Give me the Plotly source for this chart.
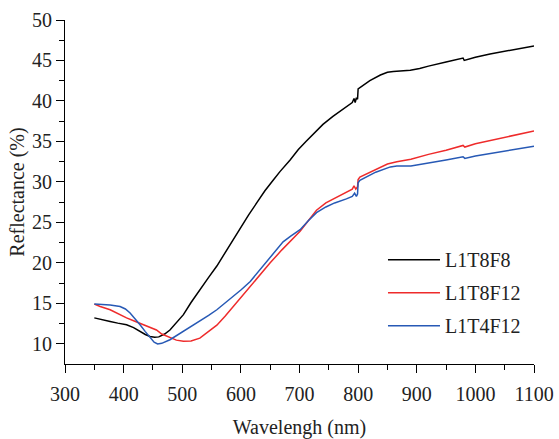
import plotly.graph_objects as go

# L1T8F8 (black)
wl_k = [350, 360, 377, 390, 405, 417, 428, 437, 445, 453, 460, 470, 479, 490, 502,
        515, 530, 545, 559, 576, 590, 599, 613, 627, 641, 655, 667, 684, 698, 711, 724,
        740, 757, 770, 781, 790, 793, 795, 797, 799, 800, 810, 820, 838, 850, 860, 875,
        889, 905, 920, 950, 979, 981, 1000, 1025, 1050, 1075, 1100]
r_k = [13.2, 13.0, 12.75, 12.55, 12.35, 12.0, 11.5, 11.15, 10.9, 10.8, 10.85, 11.2, 11.7, 12.6, 13.6,
       15.1, 16.7, 18.2, 19.6, 21.6, 23.2, 24.3, 25.9, 27.4, 28.9, 30.2, 31.3, 32.7, 34.0, 35.0, 36.0,
       37.1, 38.1, 38.8, 39.3, 39.8, 40.3, 39.8, 40.4, 40.2, 41.5, 42.0, 42.5, 43.2, 43.55, 43.65, 43.7,
       43.8, 44.0, 44.3, 44.8, 45.3, 45.0, 45.4, 45.8, 46.15, 46.5, 46.8]

# L1T8F12 (red)
wl_r = [350, 360, 377, 390, 405, 417, 428, 445, 456, 465, 479, 490, 502, 515, 530, 545,
        559, 573, 587, 601, 616, 633, 650, 670, 685, 701, 715, 729, 745, 760, 780, 790,
        793, 796, 799, 800, 803, 815, 832, 850, 866, 890, 920, 950, 979, 982, 1000, 1050, 1100]
r_r = [14.9, 14.6, 14.2, 13.7, 13.2, 12.85, 12.55, 12.06, 11.7, 11.2, 10.75, 10.45, 10.3, 10.35, 10.7, 11.5,
       12.3, 13.4, 14.6, 15.9, 17.1, 18.6, 20.0, 21.6, 22.7, 23.9, 25.2, 26.5, 27.4, 28.0, 28.8, 29.1,
       29.5, 29.1, 29.4, 30.3, 30.6, 31.0, 31.6, 32.2, 32.5, 32.8, 33.4, 33.9, 34.5, 34.3, 34.7, 35.5, 36.3]

# L1T4F12 (blue)
wl_b = [350, 362, 377, 394, 403, 411, 420, 428, 437, 445, 452, 458, 465, 479, 490, 502,
        515, 530, 545, 559, 573, 587, 601, 616, 631, 647, 660, 672, 685, 701, 715, 729,
        745, 760, 780, 790, 794, 797, 799, 800, 803, 830, 855, 866, 890, 920, 950, 979,
        982, 1000, 1050, 1100]
r_b = [14.9, 14.85, 14.8, 14.6, 14.3, 13.8, 13.1, 12.35, 11.5, 10.8, 10.2, 9.97, 10.05, 10.5, 11.0, 11.5,
       12.1, 12.75, 13.5, 14.2, 15.0, 15.8, 16.7, 17.7, 19.0, 20.4, 21.5, 22.6, 23.3, 24.1, 25.2, 26.2,
       26.9, 27.4, 27.9, 28.2, 28.6, 28.2, 28.5, 29.9, 30.2, 31.2, 31.85, 31.95, 31.95, 32.3, 32.7, 33.1,
       32.9, 33.2, 33.8, 34.4]

names = ["L1T8F8", "L1T8F12", "L1T4F12"]
colors = ["#000000", "#ee2b2b", "#2759b5"]

FONT = "Liberation Serif"
TXT = "#222222"

fig = go.Figure()
for name, x, y, c in zip(names, [wl_k, wl_r, wl_b], [r_k, r_r, r_b], colors):
    fig.add_trace(go.Scatter(x=x, y=y, mode="lines", name=name, legendgroup=name,
                             line=dict(color=c, width=1.5)))

axis_common = dict(
    showline=True, linecolor="black", linewidth=1.2, mirror=False, automargin=False,
    showgrid=False, zeroline=False, ticks="outside", ticklen=8, tickwidth=1.2,
    tickcolor="black", tickfont=dict(family=FONT, size=20, color=TXT),
)

fig.update_xaxes(range=[300, 1100], dtick=100, tick0=300, ticklabelstandoff=4,
                 minor=dict(ticks="outside", ticklen=5, dtick=50, tickcolor="black", tickwidth=1.2),
                 title=dict(text="Wavelengh (nm)", font=dict(family=FONT, size=20, color=TXT),
                            standoff=16),
                 **axis_common)
fig.update_yaxes(range=[7.5, 50], tickvals=[10, 15, 20, 25, 30, 35, 40, 45, 50],
                 minor=dict(ticks="outside", ticklen=5,
                            tickvals=[12.5, 17.5, 22.5, 27.5, 32.5, 37.5, 42.5, 47.5],
                            tickcolor="black", tickwidth=1.2),
                 title=dict(text="Reflectance (%)", font=dict(family=FONT, size=20, color=TXT),
                            standoff=1),
                 **axis_common)

fig.update_layout(
    width=559, height=439,
    margin=dict(l=65, r=25, t=20, b=75),
    font=dict(family=FONT, size=20, color=TXT),
    paper_bgcolor="white", plot_bgcolor="white",
    showlegend=True,
    legend=dict(x=0.678, y=0.36, xanchor="left", yanchor="top", itemwidth=52,
                font=dict(family=FONT, size=20, color=TXT),
                bgcolor="rgba(0,0,0,0)", tracegroupgap=4, traceorder="grouped"),
)

fig.write_html("out.html")
